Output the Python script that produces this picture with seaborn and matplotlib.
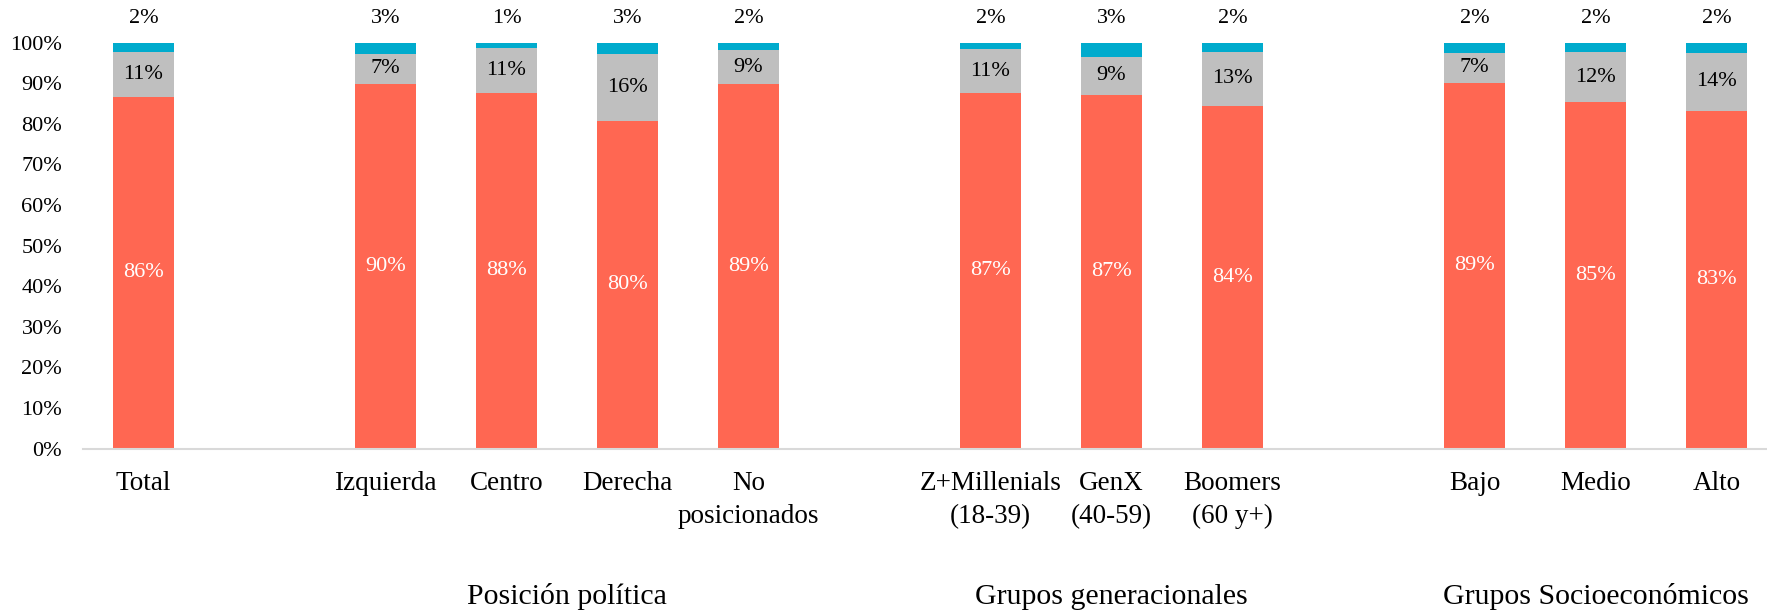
import matplotlib
matplotlib.use("Agg")

import numpy as np
import pandas as pd
import matplotlib.pyplot as plt
import seaborn as sns
from matplotlib.ticker import PercentFormatter
from matplotlib.transforms import blended_transform_factory

# Chart data
group_names = ["", "Posición política", "Grupos generacionales", "Grupos Socioeconómicos"]
group_categories = [
    ["Total"],
    ["Izquierda", "Centro", "Derecha", "No\nposicionados"],
    ["Z+Millenials\n(18-39)", "GenX\n(40-59)", "Boomers\n(60 y+)"],
    ["Bajo", "Medio", "Alto"],
]
# segment shares (%)
red_vals = [86.7, 89.9, 87.5, 80.7, 89.7, 87.5, 87.2, 84.5, 90.1, 85.3, 83.2]
gray_vals = [10.9, 7.3, 11.2, 16.5, 8.6, 10.9, 9.3, 13.2, 7.4, 12.4, 14.3]
blue_vals = [2.4, 2.8, 1.3, 2.8, 1.7, 1.6, 3.5, 2.3, 2.5, 2.3, 2.5]
# printed data labels
red_labels = [86, 90, 88, 80, 89, 87, 87, 84, 89, 85, 83]
gray_labels = [11, 7, 11, 16, 9, 11, 9, 13, 7, 12, 14]
blue_labels = [2, 3, 1, 3, 2, 2, 3, 2, 2, 2, 2]

RED = "#FF6752"
GRAY = "#BFBFBF"
BLUE = "#00ABCD"


def build_frame():
    categories = [c for g in group_categories for c in g]
    df = pd.DataFrame({"category": categories, "red": red_vals,
                       "gray": gray_vals, "blue": blue_vals,
                       "red_lab": red_labels, "gray_lab": gray_labels,
                       "blue_lab": blue_labels})
    total = df[["red", "gray", "blue"]].sum(axis=1)
    # 100% stacked: cumulative tops
    df["top_red"] = df["red"] / total
    df["top_gray"] = (df["red"] + df["gray"]) / total
    df["top_blue"] = 1.0
    return df


def build_order():
    # one empty slot between groups
    order = []
    for i, g in enumerate(group_categories):
        if i > 0:
            order.append(" " * i)
        order.extend(g)
    return order


def main():
    df = build_frame()
    order = build_order()

    sns.set_theme(style="white")
    plt.rcParams["font.family"] = ["Liberation Serif", "DejaVu Serif"]

    fig = plt.figure(figsize=(17.67, 6.15), dpi=100)
    ax = fig.add_axes([83 / 1767, 166.5 / 615, 1694 / 1767, 405.8 / 615])

    for col, color in [("top_blue", BLUE), ("top_gray", GRAY), ("top_red", RED)]:
        sns.barplot(data=df, x="category", y=col, order=order, color=color,
                    saturation=1, width=0.5, linewidth=0, errorbar=None, ax=ax)

    # segment labels
    for _, row in df.iterrows():
        x = order.index(row["category"])
        ax.text(x, row["top_red"] / 2, f"{row['red_lab']}%", ha="center",
                va="center", color="white", fontsize=16)
        ax.text(x, (row["top_red"] + row["top_gray"]) / 2, f"{row['gray_lab']}%",
                ha="center", va="center", color="black", fontsize=16)
        ax.text(x, 1.06, f"{row['blue_lab']}%", ha="center", va="center",
                color="black", fontsize=16, clip_on=False)

    ax.set_ylim(0, 1)
    ax.set_yticks(np.arange(0, 1.01, 0.1))
    ax.yaxis.set_major_formatter(PercentFormatter(1.0, decimals=0))
    ax.set_xlabel("")
    ax.set_ylabel("")
    ax.tick_params(axis="x", length=0, pad=16, labelsize=19.5, colors="black")
    ax.tick_params(axis="y", length=0, pad=15, labelsize=16, colors="black")
    for lbl in ax.get_xticklabels():
        lbl.set_linespacing(1.45)

    sns.despine(ax=ax, left=True)
    ax.spines["bottom"].set_color("#D9D9D9")
    ax.spines["bottom"].set_linewidth(1.5)

    # group titles under the categories
    trans = blended_transform_factory(ax.transData, fig.transFigure)
    for name, cats in zip(group_names, group_categories):
        if not name:
            continue
        xs = [order.index(c) for c in cats]
        ax.text(np.mean(xs), 18 / 615, name, transform=trans, ha="center",
                va="center", fontsize=21.5, color="black")

    fig.savefig("out.png", dpi=100)
    plt.close(fig)


if __name__ == "__main__":
    main()
